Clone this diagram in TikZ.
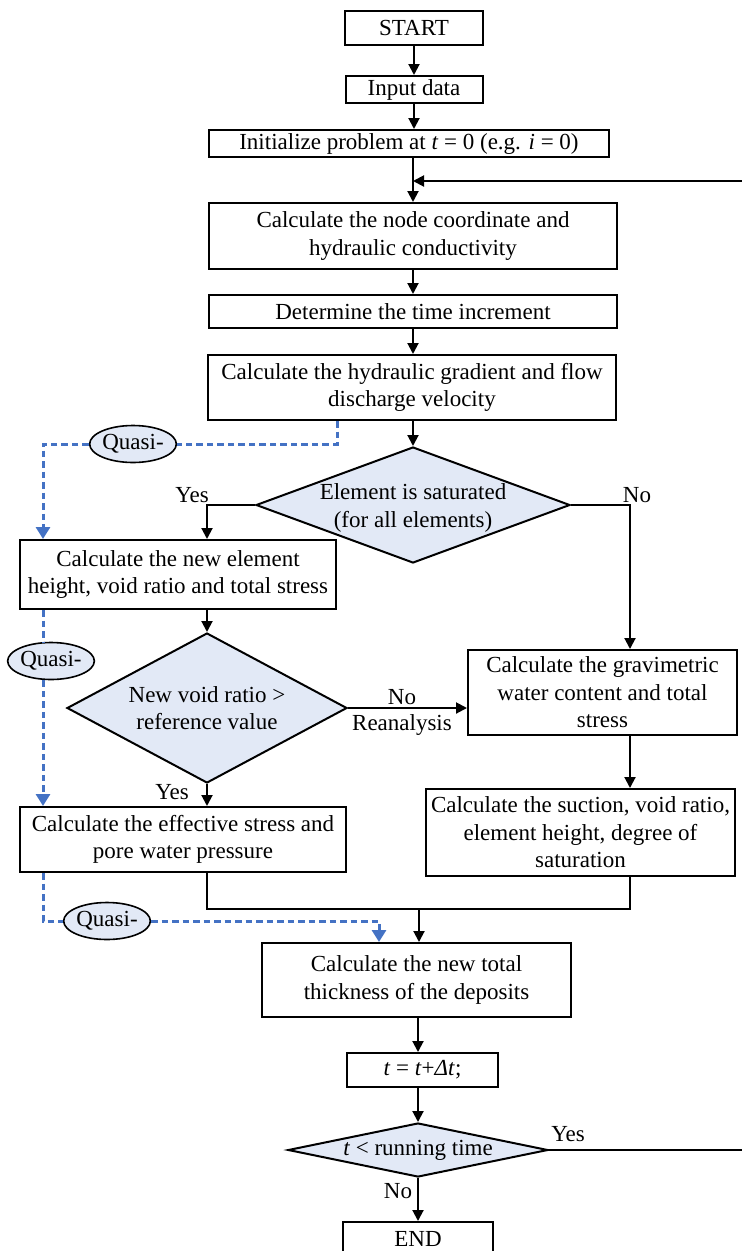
\documentclass[tikz,border=0pt]{standalone}
\usepackage{fontspec}
\setmainfont{Liberation Serif}
\usetikzlibrary{arrows.meta,shapes.geometric}
\definecolor{decfill}{RGB}{226,233,246}
\definecolor{quasiblue}{RGB}{68,114,196}

\begin{document}
\begin{tikzpicture}[x=1pt,y=-1pt,
  font=\fontsize{23}{27.5}\selectfont,
  box/.style={draw, line width=2pt, align=center, inner sep=0pt},
  decision/.style={diamond, draw, fill=decfill, line width=2pt, inner sep=0pt},
  dtext/.style={align=center, inner sep=0pt},
  quasi/.style={ellipse, draw, fill=decfill, line width=1.6pt, inner sep=0pt,
                minimum width=80pt, minimum height=37pt},
  lbl/.style={anchor=base, inner sep=0pt},
  flow/.style={line width=2pt},
  arr/.style={flow, -{Triangle[length=11pt,width=11pt]}},
  qline/.style={quasiblue, line width=3pt, dash pattern=on 6.5pt off 4pt},
  qarr/.style={qline, -{Triangle[length=12pt,width=14pt]}}
]
\useasboundingbox (0,0) rectangle (742,1251);
\clip (0,0) rectangle (742,1251);

% column guides
\coordinate (ax) at (413,0);
\coordinate (rcol) at (630,0);
\coordinate (qx) at (43,0);
\coordinate (qtap) at (337,0);
\coordinate (qdrop) at (379,0);

% process boxes
\node[box, minimum width=138pt, minimum height=34pt] (start) at (414,28) {START};
\node[box, minimum width=137pt, minimum height=27pt] (input) at (414,89.5) {Input data};
\node[box, minimum width=400pt, minimum height=27pt] (init) at (409,143.5)
  {Initialize problem at \textit{t} = 0 (e.g. \textit{i} = 0)};
\node[box, minimum width=408pt, minimum height=66pt] (coord) at (413,236)
  {Calculate the node coordinate and\\hydraulic conductivity};
\node[box, minimum width=408pt, minimum height=33pt] (incr) at (413,311.5)
  {Determine the time increment};
\node[box, minimum width=408pt, minimum height=65pt] (hydr) at (412,387.5)
  {Calculate the hydraulic gradient and flow\\discharge velocity};
\node[box, minimum width=316pt, minimum height=69pt] (newel) at (178,574.5)
  {Calculate the new element\\height, void ratio and total stress};
\node[box, minimum width=269pt, minimum height=85pt] (grav) at (602.5,692.5)
  {Calculate the gravimetric\\water content and total\\stress};
\node[box, minimum width=326pt, minimum height=65pt] (eff) at (183,839.5)
  {Calculate the effective stress and\\pore water pressure};
\node[box, minimum width=309pt, minimum height=87pt] (suct) at (580.5,832.5)
  {Calculate the suction, void ratio,\\element height, degree of\\saturation};
\node[box, minimum width=309pt, minimum height=74pt] (thick) at (416.5,980)
  {Calculate the new total\\thickness of the deposits};
\node[box, minimum width=151pt, minimum height=34pt] (step) at (422.5,1070)
  {\textit{t} = \textit{t}+\textit{Δt};};
\node[box, minimum width=150pt, minimum height=34pt] (stop) at (418,1239) {END};

% decisions
\node[decision, minimum width=314pt, minimum height=116pt] (sat) at (413,505) {};
\node[dtext] (sat-text) at (413,508) {Element is saturated\\(for all elements)};
\node[decision, minimum width=280pt, minimum height=150pt] (void) at (207,708) {};
\node[dtext] (void-text) at (void) {New void ratio >\\reference value};
\node[decision, minimum width=260pt, minimum height=54pt] (run) at (418,1150) {};
\node[dtext] (run-text) at (run) {\textit{t} < running time};

% quasi-static shortcuts
\node[quasi] (q1) at (133,444) {Quasi-};
\node[quasi] (q2) at (51,661) {Quasi-};
\node[quasi] (q3) at (107,921) {Quasi-};

% main flow
\coordinate (mj) at (419,909);
\coordinate (loopin) at (413,181);
\coordinate (loopR) at (760,1150);
\coordinate (loopT) at (760,181);
\draw[arr] (start) -- (input);
\draw[arr] (input.south) -- (input.south |- init.north);
\draw[arr] (init.south -| ax) -- (coord.north -| ax);
\draw[arr] (coord.south -| ax) -- (incr.north -| ax);
\draw[arr] (incr.south -| ax) -- (hydr.north -| ax);
\draw[arr] (hydr.south -| ax) -- (sat.north);
\draw[arr] (sat.west) -| (newel.north -| void.north);
\draw[arr] (sat.east) -| (grav.north -| rcol);
\draw[arr] (newel.south -| void.north) -- (void.north);
\draw[arr] (void.east) -- (void.east -| grav.west);
\draw[arr] (void.south) -- (eff.north -| void.south);
\draw[arr] (grav.south -| rcol) -- (suct.north -| rcol);
\draw[flow] (eff.south -| void.south) |- (mj) -| (suct.south -| rcol);
\draw[arr] (mj) -- (mj |- thick.north);
\draw[arr] (thick.south -| run.north) -- (step.north -| run.north);
\draw[arr] (step.south -| run.north) -- (run.north);
\draw[arr] (run.south) -- (stop.north);
\draw[flow] (run.east) -- (loopR) -- (loopT) -- (loopin -| coord.east);
\draw[arr] (loopT) -- (loopin);

% quasi-static paths
\draw[qline] (hydr.south -| qtap) |- (q1.east);
\draw[qarr] (q1.west) -| (newel.north -| qx);
\draw[qline] (newel.south -| qx) -- (q2.north -| qx);
\draw[qarr] (q2.south -| qx) -- (eff.north -| qx);
\draw[qline] (eff.south -| qx) |- (q3.west);
\draw[qarr] (q3.east) -| (thick.north -| qdrop);

% branch labels
\node[lbl] (yes1) at (192,502) {Yes};
\node[lbl] (no1) at (637,502) {No};
\node[lbl] (no2) at (402,704) {No};
\node[lbl] (rean) at (402,730) {Reanalysis};
\node[lbl] (yes2) at (172,799) {Yes};
\node[lbl] (yes3) at (568,1141) {Yes};
\node[lbl] (no3) at (398,1198) {No};
\end{tikzpicture}
\end{document}
